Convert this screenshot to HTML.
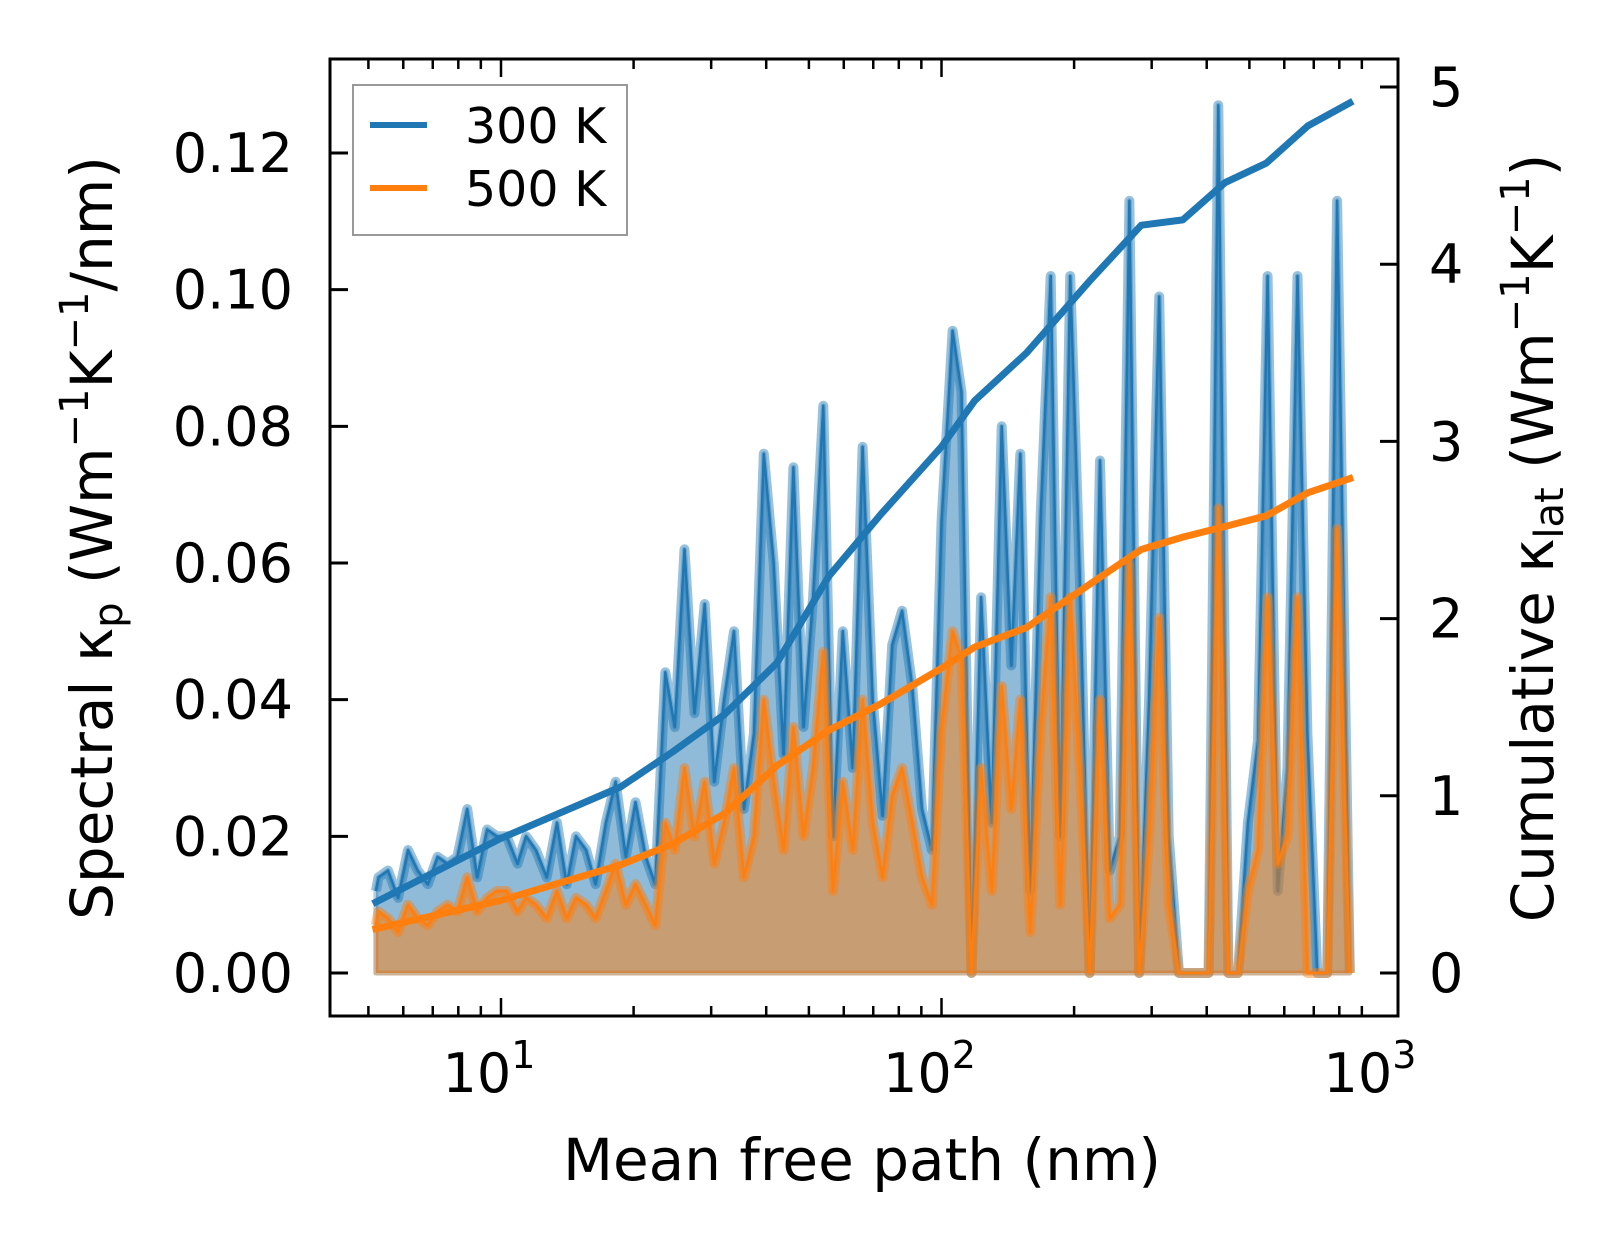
<!DOCTYPE html>
<html><head><meta charset="utf-8"><style>
html,body{margin:0;padding:0;background:#fff}
body{position:relative}
svg{display:block}
text{font-family:"DejaVu Sans","Liberation Sans",sans-serif;fill:#000}
</style></head><body>
<svg id="chart" width="1623" height="1254" viewBox="0 0 1623 1254" xmlns="http://www.w3.org/2000/svg">
<g id="plot"></g>
<g id="axes"></g>
</svg>
<script>
const mfp = [5.2,5.27,5.54,5.84,6.15,6.47,6.82,7.18,7.56,7.96,
8.38,8.83,9.30,9.79,10.3,10.9,11.4,12.0,12.7,13.4,
14.1,14.8,15.6,16.4,17.3,18.2,19.2,20.2,21.3,22.4,
23.6,24.8,26.1,27.5,29.0,30.5,32.1,33.8,35.6,37.5,
39.5,41.6,43.8,46.1,48.6,51.1,53.9,56.7,59.7,62.9,
66.2,69.8,73.5,77.3,81.4,85.8,90.3,95.1,100,106,
111,117,123,130,137,144,151,159,168,177,
186,196,206,217,229,241,254,267,281,296,
312,328,346,364,383,404,425,448,471,496,
523,550,580,610,643,677,713,751,791,845];
const spec300 = [12,14,15,11,18,15,13,17,16,17,
24,14,21,20,20,16,20,18,14,22,
13,20,18,13,22,28,17,25,17,13,
44,36,62,38,54,28,40,50,24,35,
76,60,32,74,36,55,83,20,50,30,
77,40,23,48,53,42,24,18,66,94,
85,0,55,22,80,45,76,12,67,102,
20,102,58,0,75,15,20,113,0,40,
99,20,0,0,0,0,127,0,0,22,
34,102,12,30,102,35,0,0,113,0];
const spec500 = [7,9,8,6,10,8,7,9,10,9,
14,9,11,12,12,9,11,10,8,12,
8,11,10,8,12,16,10,13,10,7,
22,18,30,20,28,16,22,30,14,20,
40,28,18,36,20,30,47,12,28,18,
40,22,14,26,30,22,14,10,36,50,
46,0,30,12,42,24,40,6,36,55,
10,55,30,0,40,8,10,60,0,20,
52,10,0,0,0,0,68,0,0,12,
18,55,16,20,55,0,0,0,65,0];
const cumMfp = [5.2,10,18.7,24.6,32.2,42.3,55.5,72.9,100,119,156,216,284,353,440,546,678,845];
const cum300 = [0.40,0.76,1.05,1.25,1.46,1.75,2.24,2.59,2.97,3.23,3.50,3.90,4.22,4.25,4.46,4.57,4.78,4.91];
const cum500 = [0.25,0.41,0.61,0.73,0.90,1.17,1.37,1.52,1.72,1.84,1.95,2.19,2.39,2.46,2.52,2.58,2.71,2.79];
const leftTicks = ["0.00","0.02","0.04","0.06","0.08","0.10","0.12"];
const rightTicks = ["0","1","2","3","4","5"];
const xDecades = [1,2,3];

const NS="http://www.w3.org/2000/svg";
const L=330,R=1398,T=59,B=1016;
const X0=501, DEC=440.5;
function xs(v){return X0+(Math.log10(v)-1)*DEC;}
function yl(v){return 973-v*(820/0.12);}
function yr(v){return 973-v*177.2;}
function mk(tag,attrs,parent){const e=document.createElementNS(NS,tag);for(const k in attrs)e.setAttribute(k,attrs[k]);parent.appendChild(e);return e;}
const plot=document.getElementById('plot'), axes=document.getElementById('axes');

function drawSpectral(vals,color,name){
  const n=Math.min(mfp.length,vals.length);
  let d='';
  for(let i=0;i<n;i++){d+=(i?'L':'M')+xs(mfp[i]).toFixed(1)+' '+yl(vals[i]/1000).toFixed(1);}
  const area=d+'L'+xs(mfp[n-1]).toFixed(1)+' '+yl(0)+'L'+xs(mfp[0]).toFixed(1)+' '+yl(0)+'Z';
  const a=mk('path',{d:area,fill:color,'fill-opacity':0.5,stroke:color,'stroke-opacity':0.35,'stroke-width':5,'stroke-linejoin':'round'},plot);
  
  
  const h=mk('path',{d:d,fill:'none',stroke:color,'stroke-opacity':0.45,'stroke-width':10,'stroke-linejoin':'round'},plot);
  
  
  const ln=mk('path',{d:d,fill:'none',stroke:color,'stroke-width':2.5,'stroke-linejoin':'round'},plot);
  
  
}
drawSpectral(spec300,'#1f77b4','spectral-300k');
drawSpectral(spec500,'#ff7f0e','spectral-500k');
function drawCum(vals,color,name){
  const n=Math.min(cumMfp.length,vals.length);let d='';
  for(let i=0;i<n;i++){d+=(i?'L':'M')+xs(cumMfp[i]).toFixed(1)+' '+yr(vals[i]).toFixed(1);}
  const p=mk('path',{d:d,fill:'none',stroke:color,'stroke-width':7,'stroke-linejoin':'round','stroke-linecap':'square'},plot);
  
  
}
drawCum(cum300,'#1f77b4','cumulative-300k');
drawCum(cum500,'#ff7f0e','cumulative-500k');

const fr=mk('rect',{x:L,y:T,width:R-L,height:B-T,fill:'none',stroke:'#000','stroke-width':3},axes);


for(const dcd of [0,1,2]){
  for(let m=1;m<10;m++){
    const v=m*Math.pow(10,dcd);const x=xs(v);
    if(x<L||x>R)continue;
    const len=m===1?18:10;
    const t1=mk('line',{x1:x,y1:B,x2:x,y2:B-len,stroke:'#000','stroke-width':2.5},axes);
    
    
    const t2=mk('line',{x1:x,y1:T,x2:x,y2:T+len,stroke:'#000','stroke-width':2.5},axes);
    
    
  }
}
xDecades.forEach(p=>{
  const t=mk('text',{x:xs(Math.pow(10,p))-12,y:1092,'font-size':54,'text-anchor':'middle'},axes);
  
  
  t.textContent='10';
  const s=mk('tspan',{'font-size':38,dy:-24},t);s.textContent=String(p);
});
leftTicks.forEach(s=>{
  const y=yl(parseFloat(s));
  const ln=mk('line',{x1:L,y1:y,x2:L+18,y2:y,stroke:'#000','stroke-width':3},axes);
  
  
  const t=mk('text',{x:293,y:y+19,'font-size':54,'text-anchor':'end'},axes);
  
  
  t.textContent=s;
});
rightTicks.forEach(s=>{
  const y=yr(parseFloat(s));
  const ln=mk('line',{x1:R,y1:y,x2:R-18,y2:y,stroke:'#000','stroke-width':3},axes);
  
  
  const t=mk('text',{x:1429,y:y+19,'font-size':54},axes);
  
  
  t.textContent=s;
});
</script>
<svg style="position:absolute;left:0;top:0" width="1623" height="1254" xmlns="http://www.w3.org/2000/svg">
<text x="862" y="1180" font-size="58" text-anchor="middle">Mean free path (nm)</text>
<text transform="translate(112,538) rotate(-90)" font-size="58" text-anchor="middle">Spectral κ<tspan font-size="40" dy="10">p</tspan><tspan dy="-10"> (Wm</tspan><tspan font-size="40" dy="-24">−1</tspan><tspan dy="24">K</tspan><tspan font-size="40" dy="-24">−1</tspan><tspan dy="24">/nm)</tspan></text>
<text transform="translate(1553,538) rotate(-90)" font-size="58" text-anchor="middle">Cumulative κ<tspan font-size="40" dy="10">lat</tspan><tspan dy="-10"> (Wm</tspan><tspan font-size="40" dy="-24">−1</tspan><tspan dy="24">K</tspan><tspan font-size="40" dy="-24">−1</tspan><tspan dy="24">)</tspan></text>
<g>
<rect x="353" y="85" width="274" height="150" fill="#fff" fill-opacity="0.8" stroke="#999" stroke-width="2"/>
<line x1="370" y1="125" x2="427" y2="125" stroke="#1f77b4" stroke-width="6"/>
<text x="465" y="143" font-size="49">300 K</text>
<line x1="370" y1="188" x2="427" y2="188" stroke="#ff7f0e" stroke-width="6"/>
<text x="465" y="206" font-size="49">500 K</text>
</g>
</svg>
</body></html>
